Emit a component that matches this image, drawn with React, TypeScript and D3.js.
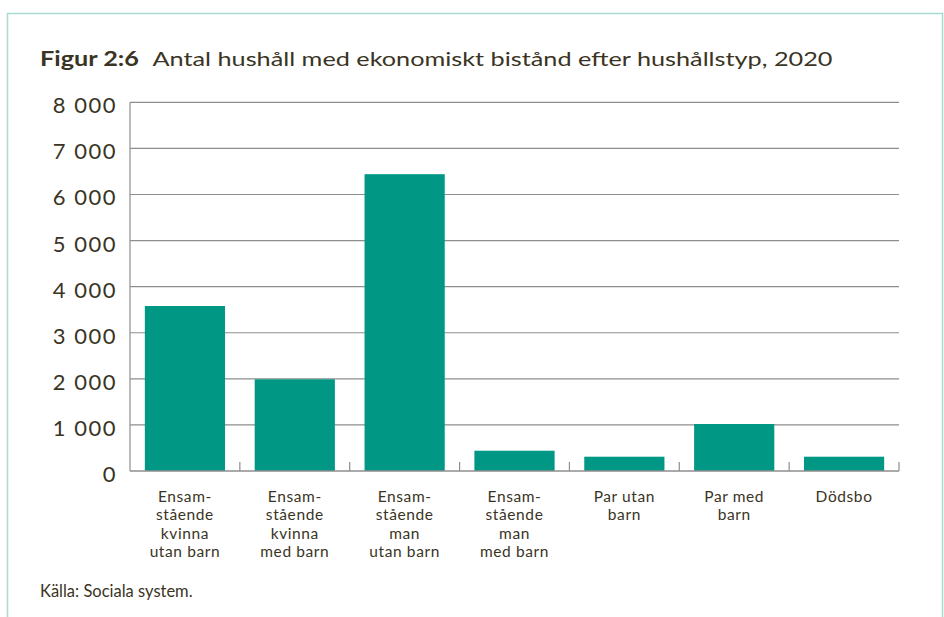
import React, { useRef, useEffect } from 'react';
import * as d3 from 'd3';

// household types, one label line per entry
const categories = [
  ['Ensam-', 'stående', 'kvinna', 'utan barn'],
  ['Ensam-', 'stående', 'kvinna', 'med barn'],
  ['Ensam-', 'stående', 'man', 'utan barn'],
  ['Ensam-', 'stående', 'man', 'med barn'],
  ['Par utan', 'barn'],
  ['Par med', 'barn'],
  ['Dödsbo'],
];
const values = [3580, 1990, 6440, 440, 310, 1020, 310];
const yTicks = [0, 1000, 2000, 3000, 4000, 5000, 6000, 7000, 8000];

const titleBold = 'Figur 2:6';
const titleText = 'Antal hushåll med ekonomiskt bistånd efter hushållstyp, 2020';
const source = 'Källa: Sociala system.';

const W = 944;
const H = 617;
const FONT = 'Lato, "Open Sans", sans-serif';
const INK = '#3a3424';
const BAR = '#009884';
const GRID = '#8e8e8e';

const fmt = d3.formatLocale({ decimal: ',', thousands: ' ', grouping: [3], currency: ['', ' kr'] }).format(',d');

export default function App() {
  const svgRef = useRef<SVGSVGElement>(null);

  useEffect(() => {
    if (!svgRef.current) return;
    const svg = d3.select(svgRef.current);
    svg.selectAll('*').remove();

    const margin = { top: 102.3, right: 45, bottom: 146, left: 130 };
    const innerWidth = W - margin.left - margin.right;
    const innerHeight = H - margin.top - margin.bottom;

    // frame
    svg.append('rect')
      .attr('x', 7.5).attr('y', 13.5)
      .attr('width', 935).attr('height', 700)
      .attr('fill', 'none')
      .attr('stroke', '#a8dad2')
      .attr('stroke-width', 1.5);

    // title
    svg.append('text')
      .attr('x', 40).attr('y', 66)
      .attr('font-family', FONT).attr('font-weight', 700)
      .attr('font-size', 20).attr('fill', INK)
      .attr('textLength', 99).attr('lengthAdjust', 'spacingAndGlyphs')
      .text(titleBold);
    svg.append('text')
      .attr('x', 152.5).attr('y', 66)
      .attr('font-family', FONT)
      .attr('font-size', 20).attr('fill', INK)
      .attr('textLength', 680).attr('lengthAdjust', 'spacingAndGlyphs')
      .text(titleText);

    const x = d3.scaleBand<number>()
      .domain(values.map((_, i) => i))
      .range([0, innerWidth])
      .paddingInner(0.27)
      .paddingOuter(0.135);

    const y = d3.scaleLinear()
      .domain([0, 8000])
      .range([innerHeight, 0]);

    const g = svg.append('g')
      .attr('transform', `translate(${margin.left},${margin.top})`);

    // gridlines
    g.selectAll('.grid')
      .data(yTicks.filter(t => t > 0))
      .enter().append('line')
      .attr('x1', 0).attr('x2', innerWidth)
      .attr('y1', d => y(d)).attr('y2', d => y(d))
      .attr('stroke', GRID).attr('stroke-width', 1.2);

    // y labels
    g.selectAll('.ylab')
      .data(yTicks)
      .enter().append('text')
      .attr('x', -13)
      .attr('y', d => y(d) + 11)
      .attr('text-anchor', 'end')
      .attr('font-family', FONT).attr('font-size', 22)
      .attr('letter-spacing', 1.5)
      .attr('fill', INK)
      .text(d => fmt(d));

    // bars
    g.selectAll('.bar')
      .data(values)
      .enter().append('rect')
      .attr('x', (_, i) => x(i)!)
      .attr('y', d => y(d))
      .attr('width', x.bandwidth())
      .attr('height', d => innerHeight - y(d))
      .attr('fill', BAR);

    // axes lines
    g.append('line')
      .attr('x1', 0).attr('x2', 0)
      .attr('y1', 0).attr('y2', innerHeight)
      .attr('stroke', GRID).attr('stroke-width', 1.2);
    g.append('line')
      .attr('x1', 0).attr('x2', innerWidth)
      .attr('y1', innerHeight).attr('y2', innerHeight)
      .attr('stroke', GRID).attr('stroke-width', 1.5);

    // category boundary ticks
    const step = x.step();
    g.selectAll('.tick')
      .data(d3.range(1, values.length + 1))
      .enter().append('line')
      .attr('x1', i => x(0)! - (step - x.bandwidth()) / 2 + i * step)
      .attr('x2', i => x(0)! - (step - x.bandwidth()) / 2 + i * step)
      .attr('y1', innerHeight - 9).attr('y2', innerHeight)
      .attr('stroke', GRID).attr('stroke-width', 1.2);

    // category labels
    const labels = g.selectAll('.xlab')
      .data(categories)
      .enter().append('text')
      .attr('text-anchor', 'middle')
      .attr('font-family', FONT).attr('font-size', 15.5)
      .attr('letter-spacing', 0.6)
      .attr('fill', INK)
      .attr('transform', (_, i) => `translate(${x(i)! + x.bandwidth() / 2},${innerHeight + 30.5})`);
    labels.selectAll('tspan')
      .data(d => d)
      .enter().append('tspan')
      .attr('x', 0)
      .attr('y', (_, j) => j * 18.6)
      .text(d => d);

    // source
    svg.append('text')
      .attr('x', 40).attr('y', 597)
      .attr('font-family', FONT).attr('font-size', 16.5)
      .attr('fill', INK)
      .text(source);
  }, []);

  return (
    <svg
      ref={svgRef}
      width={W}
      height={H}
      style={{ position: 'absolute', left: 0, top: 0, display: 'block', background: '#fff' }}
    />
  );
}
